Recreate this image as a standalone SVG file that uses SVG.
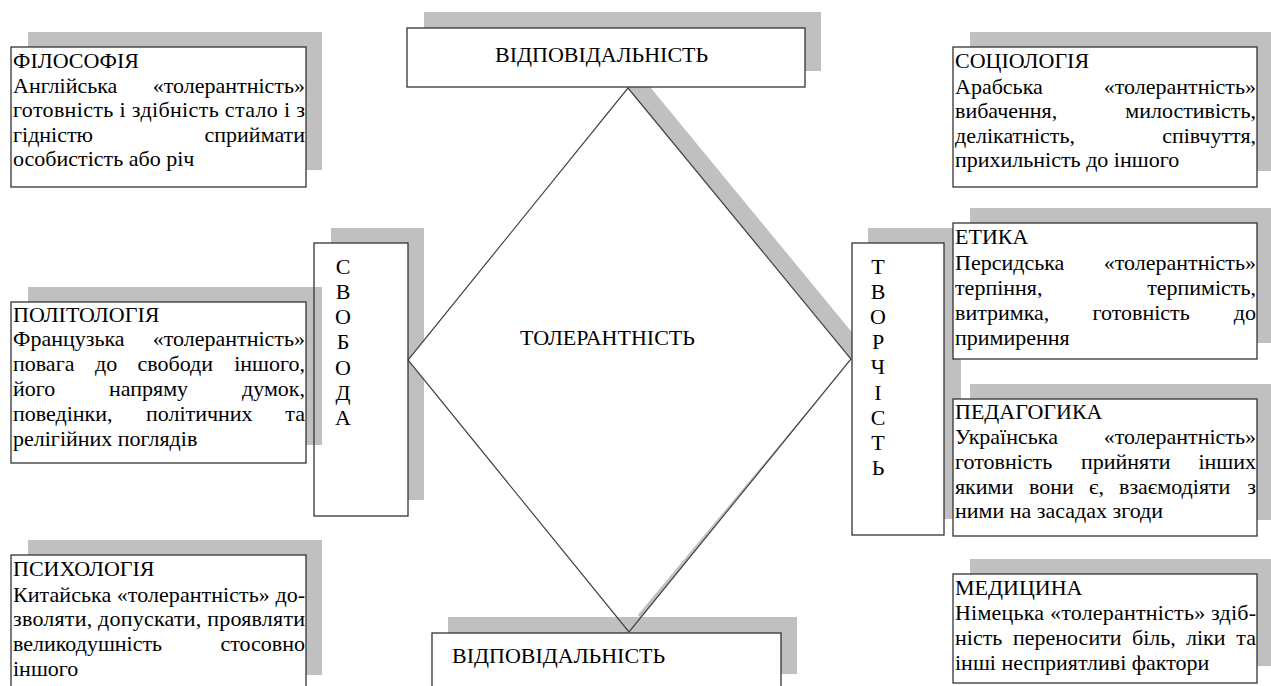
<svg xmlns="http://www.w3.org/2000/svg" width="1271" height="686" viewBox="0 0 1271 686">
<style>
.sh{fill:#c0c0c0;stroke:none}
.bx{fill:#fff;stroke:#333;stroke-width:1.3}
.fill{fill:#fff;stroke:none}
.frame{fill:none;stroke:#333;stroke-width:1.3}
.dia{fill:none;stroke:#444;stroke-width:1.2}
text{font-family:"Liberation Serif","Times New Roman",serif;font-size:22px;fill:#000}
.m{text-anchor:middle}
.e{text-anchor:end}
</style>
<rect width="1271" height="686" fill="#fff"/>

<g id="bottom-box">
<rect class="sh" x="448" y="617" width="349" height="57"/>
<rect class="bx" x="432" y="633" width="349" height="60"/>
<text x="452" y="663">ВІДПОВІДАЛЬНІСТЬ</text>
</g>

<g id="svoboda-base">
<rect class="sh" x="331" y="228" width="93" height="272"/>
<rect class="fill" x="314" y="243" width="94" height="273"/>
</g>

<g id="diamond">
<polygon class="sh" points="639.4,74 862.4,345 640.4,618 419.4,346"/>
<polygon class="fill" points="628,88 851,359 637,616 621,616 408,360"/>
<polygon class="dia" points="628,88 851,359 629,632 408,360"/>
<text x="520" y="345">ТОЛЕРАНТНІСТЬ</text>
</g>

<g id="top-box">
<rect class="sh" x="424" y="12" width="397" height="59"/>
<rect class="bx" x="407" y="28" width="398" height="59"/>
<text x="495" y="62">ВІДПОВІДАЛЬНІСТЬ</text>
</g>

<g id="tvorchist">
<rect class="sh" x="868" y="228" width="93" height="291"/>
<rect class="bx" x="852" y="243" width="92" height="292"/>
<text class="m" x="878" y="273.5">Т</text>
<text class="m" x="878" y="298.7">В</text>
<text class="m" x="878" y="323.9">О</text>
<text class="m" x="878" y="349.1">Р</text>
<text class="m" x="878" y="374.3">Ч</text>
<text class="m" x="878" y="399.5">І</text>
<text class="m" x="878" y="424.7">С</text>
<text class="m" x="878" y="449.9">Т</text>
<text class="m" x="878" y="475.1">Ь</text>
</g>

<g id="filosofiya">
<rect class="sh" x="28" y="32" width="294" height="138"/>
<rect class="bx" x="11" y="47" width="295" height="140"/>
<text x="13" y="68">ФІЛОСОФІЯ</text>
<text x="13" y="93">Англійська</text>
<text class="e" x="305" y="93">«толерантність»</text>
<text x="13" y="117" textLength="292" lengthAdjust="spacing">готовність і здібність стало і з</text>
<text x="13" y="142">гідністю</text>
<text class="e" x="305" y="142">сприймати</text>
<text x="13" y="166">особистість або річ</text>
</g>

<g id="politologiya">
<rect class="sh" x="28" y="287" width="294" height="158"/>
<rect class="bx" x="11" y="302" width="295" height="161"/>
<text x="13" y="322">ПОЛІТОЛОГІЯ</text>
<text x="13" y="346">Французька</text>
<text class="e" x="305" y="346">«толерантність»</text>
<text x="13" y="371">повага</text>
<text x="95" y="371">до</text>
<text x="137.5" y="371">свободи</text>
<text class="e" x="305" y="371">іншого,</text>
<text x="13" y="396">його</text>
<text x="109" y="396">напряму</text>
<text class="e" x="305" y="396">думок,</text>
<text x="13" y="421">поведінки,</text>
<text x="146" y="421">політичних</text>
<text class="e" x="305" y="421">та</text>
<text x="13" y="446">релігійних поглядів</text>
</g>

<g id="psykholohiya">
<rect class="sh" x="28" y="540" width="294" height="135"/>
<rect class="bx" x="11" y="555" width="295" height="140"/>
<text x="13" y="576">ПСИХОЛОГІЯ</text>
<text x="13" y="601.5" textLength="292" lengthAdjust="spacing">Китайська «толерантність» до-</text>
<text x="13" y="626" textLength="292" lengthAdjust="spacing">зволяти, допускати, проявляти</text>
<text x="13" y="651">великодушність</text>
<text class="e" x="305" y="651">стосовно</text>
<text x="13" y="676">іншого</text>
</g>

<g id="sotsiolohiya">
<rect class="sh" x="970" y="32" width="304" height="139"/>
<rect class="bx" x="953" y="47" width="304" height="140"/>
<text x="955" y="68">СОЦІОЛОГІЯ</text>
<text x="955" y="94">Арабська</text>
<text class="e" x="1256" y="94">«толерантність»</text>
<text x="955" y="117.5">вибачення,</text>
<text class="e" x="1256" y="117.5">милостивість,</text>
<text x="955" y="142.5">делікатність,</text>
<text class="e" x="1256" y="142.5">співчуття,</text>
<text x="955" y="167">прихильність до іншого</text>
</g>

<g id="etyka">
<rect class="sh" x="970" y="208" width="304" height="135"/>
<rect class="bx" x="953" y="223" width="304" height="136"/>
<text x="955" y="244">ЕТИКА</text>
<text x="955" y="270">Персидська</text>
<text class="e" x="1256" y="270">«толерантність»</text>
<text x="955" y="295">терпіння,</text>
<text class="e" x="1256" y="295">терпимість,</text>
<text x="955" y="320">витримка,</text>
<text x="1092.5" y="320">готовність</text>
<text class="e" x="1256" y="320">до</text>
<text x="955" y="345">примирення</text>
</g>

<g id="pedahohika">
<rect class="sh" x="970" y="384" width="304" height="136"/>
<rect class="bx" x="953" y="399" width="304" height="137"/>
<text x="955" y="419">ПЕДАГОГИКА</text>
<text x="955" y="444">Українська</text>
<text class="e" x="1256" y="444">«толерантність»</text>
<text x="955" y="468.5">готовність</text>
<text x="1081" y="468.5">прийняти</text>
<text class="e" x="1256" y="468.5">інших</text>
<text x="955" y="493.5">якими</text>
<text x="1029" y="493.5">вони</text>
<text x="1089" y="493.5">є,</text>
<text x="1119" y="493.5">взаємодіяти</text>
<text class="e" x="1256" y="493.5">з</text>
<text x="955" y="518">ними на засадах згоди</text>
</g>

<g id="medytsyna">
<rect class="sh" x="970" y="559" width="304" height="107"/>
<rect class="bx" x="953" y="574" width="304" height="109"/>
<text x="955" y="595">МЕДИЦИНА</text>
<text x="955" y="620" textLength="301" lengthAdjust="spacing">Німецька «толерантність» здіб-</text>
<text x="955" y="645">ність</text>
<text x="1013" y="645">переносити</text>
<text x="1132" y="645">біль,</text>
<text x="1186" y="645">ліки</text>
<text class="e" x="1256" y="645">та</text>
<text x="955" y="670">інші несприятливі фактори</text>
</g>

<g id="svoboda">
<rect class="frame" x="314" y="243" width="94" height="273"/>
<text class="m" x="343" y="273.5">С</text>
<text class="m" x="343" y="298.8">В</text>
<text class="m" x="343" y="324.1">О</text>
<text class="m" x="343" y="349.4">Б</text>
<text class="m" x="343" y="374.7">О</text>
<text class="m" x="343" y="400">Д</text>
<text class="m" x="343" y="425.3">А</text>
</g>
</svg>
